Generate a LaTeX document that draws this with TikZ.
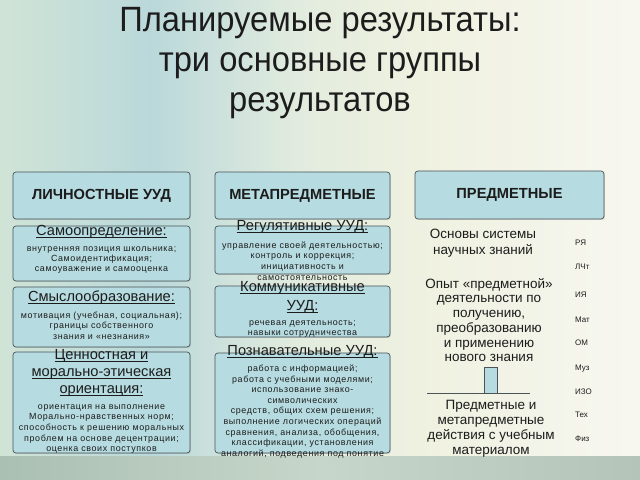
\documentclass[tikz,border=0pt]{standalone}
\usepackage{fontspec}
\setmainfont{Liberation Sans}
\newfontfamily\titlefont[FakeStretch=0.93]{Liberation Sans}
\newfontfamily\smallfont[LetterSpace=7]{Liberation Sans}
\usetikzlibrary{shadows}

\definecolor{boxfill}{RGB}{182,219,224}
\definecolor{boxline}{RGB}{75,85,88}
\definecolor{inktext}{RGB}{28,28,28}
\definecolor{bgA}{RGB}{208,228,214}
\definecolor{bgB}{RGB}{186,216,218}
\definecolor{bgC}{RGB}{226,236,222}
\definecolor{bgD}{RGB}{239,241,224}
\definecolor{bgE}{RGB}{247,247,240}
\definecolor{bandleft}{RGB}{170,192,178}
\definecolor{bandmid}{RGB}{198,214,202}
\definecolor{bandright}{RGB}{180,196,184}

\pgfdeclarehorizontalshading{bgshade}{100bp}{color(0bp)=(bgA); color(25bp)=(bgA);
  color(36.7bp)=(bgB); color(48.4bp)=(bgC); color(57.8bp)=(bgD); color(75bp)=(bgE); color(100bp)=(bgE)}

\newcommand\headline[1]{\underline{\smash{#1}}}

\tikzset{
  uudbox/.style={draw=boxline, fill=boxfill, rounded corners=2.5pt, line width=0.6pt,
    inner sep=0pt, outer sep=0pt,
    drop shadow={shadow xshift=0.8pt, shadow yshift=-0.8pt, opacity=0.25}},
  headtxt/.style={font=\bfseries\fontsize{12.5}{15}\selectfont, text=inktext},
  subhead/.style={font=\fontsize{12.5}{14.5}\selectfont, align=center, text=inktext, inner sep=0pt},
  smalltxt/.style={font=\smallfont\fontsize{7.6}{9}\selectfont, align=center, text=inktext, inner sep=0pt},
  predtxt/.style={font=\fontsize{11.5}{12.6}\selectfont, align=center, text=inktext, inner sep=0pt},
  subjlbl/.style={font=\fontsize{6.8}{8}\selectfont, anchor=west, text=inktext, inner sep=0pt}
}

\begin{document}
\begin{tikzpicture}[x=0.03cm,y=-0.03cm]

        \useasboundingbox (0,0) rectangle (640,480);

        % background
        \fill[shading=bgshade] (0,0) rectangle (640,480);
        \fill[left color=bandleft, right color=bandright, middle color=bandmid]
          (0,456) rectangle (640,480);

        % title
        \begin{scope}[every node/.style={font=\titlefont\fontsize{30}{34}\selectfont, text=inktext, anchor=base}]
          \node (title1) at (320,32)  {Планируемые результаты:};
          \node (title2) at (320,72)  {три основные группы};
          \node (title3) at (320,112) {результатов};
        \end{scope}

        \begin{scope}[every node/.style={uudbox}]
          \node[headtxt, minimum width=5.31cm, minimum height=1.41cm] (lich) at (101.5,195.5) {ЛИЧНОСТНЫЕ УУД};
          \node[minimum width=5.31cm, minimum height=1.65cm] (lich1) at (101.5,253.5) {};
          \node[minimum width=5.31cm, minimum height=1.80cm] (lich2) at (101.5,317)   {};
          \node[minimum width=5.31cm, minimum height=3.03cm] (lich3) at (101.5,402.5) {};
          \node[headtxt, minimum width=5.25cm, minimum height=1.41cm] (meta) at (302.5,195.5) {МЕТАПРЕДМЕТНЫЕ};
          \node[minimum width=5.25cm, minimum height=1.44cm] (meta1) at (302.5,250)   {};
          \node[minimum width=5.25cm, minimum height=1.53cm] (meta2) at (302.5,311.5) {};
          \node[minimum width=5.25cm, minimum height=3.00cm] (meta3) at (302.5,403)   {};
          \node[headtxt, minimum width=5.67cm, minimum height=1.44cm] (pred) at (509.5,195) {ПРЕДМЕТНЫЕ};
        \end{scope}

        % personal
        \node[subhead] (lich1h) at (101.5,237) {\headline{Самоопределение:}};
        \node[smalltxt, font=\smallfont\fontsize{7.6}{8.5}\selectfont] (lich1t) at (101.5,260)
          {внутренняя позиция школьника;\\Самоидентификация;\\самоуважение и самооценка};
        \node[subhead] (lich2h) at (101.5,303) {\headline{Смыслообразование:}};
        \node[smalltxt] (lich2t) at (101.5,325.5)
          {мотивация (учебная, социальная);\\границы собственного\\знания и «незнания»};
        \node[subhead] (lich3h) at (101.5,378)
          {\headline{Ценностная и}\\\headline{морально-этическая}\\\headline{ориентация:}};
        \node[smalltxt] (lich3t) at (101.5,429)
          {ориентация на выполнение\\Морально-нравственных норм;\\способность к решению моральных\\проблем на основе децентрации;\\оценка своих поступков};

        % meta
        \node[subhead] (meta1h) at (302.5,232) {\headline{Регулятивные УУД:}};
        \node[smalltxt] (meta1t) at (302.5,261)
          {управление своей деятельностью;\\контроль и коррекция;\\инициативность и\\самостоятельность};
        \node[subhead, font=\fontsize{12.5}{16}\selectfont] (meta2h) at (302.5,302.5)
          {\headline{Коммуникативные}\\\headline{УУД:}};
        \node[smalltxt] (meta2t) at (302.5,329)
          {речевая деятельность;\\навыки сотрудничества};
        \node[subhead] (meta3h) at (302.5,357) {\headline{Познавательные УУД:}};
        \node[smalltxt] (meta3t) at (302.5,411.5)
          {работа с информацией;\\работа с учебными моделями;\\использование знако-\\символических\\средств, общих схем решения;\\выполнение логических операций\\сравнения, анализа, обобщения,\\классификации, установления\\аналогий, подведения под понятие};

        % subject
        \node[predtxt, font=\fontsize{11.5}{13.6}\selectfont] (osnovy) at (483,243)
          {Основы системы\\научных знаний};
        \node[predtxt] (opyt) at (489,320)
          {Опыт «предметной»\\деятельности по\\получению,\\преобразованию\\и применению\\нового знания};
        \node[draw=boxline, fill=boxfill, minimum width=0.39cm, minimum height=0.78cm,
          inner sep=0pt, anchor=south] (stem) at (490.5,393) {};
        \coordinate (baseL) at (427,393);
        \coordinate (baseR) at (530,393);
        \draw[boxline, line width=0.8pt] (baseL) -- (baseR);
        \node[predtxt, font=\fontsize{11.5}{12.8}\selectfont] (dejstv) at (491,429)
          {Предметные и\\метапредметные\\действия с учебным\\материалом};

        \foreach \subj/\yy [count=\i] in {РЯ/243, ЛЧт/267, ИЯ/295, Мат/320, ОМ/343, Муз/369, ИЗО/392, Тех/415, Физ/439}
          \node[subjlbl] (subj\i) at (575,\yy) {\subj};

      \end{tikzpicture}
\end{document}
